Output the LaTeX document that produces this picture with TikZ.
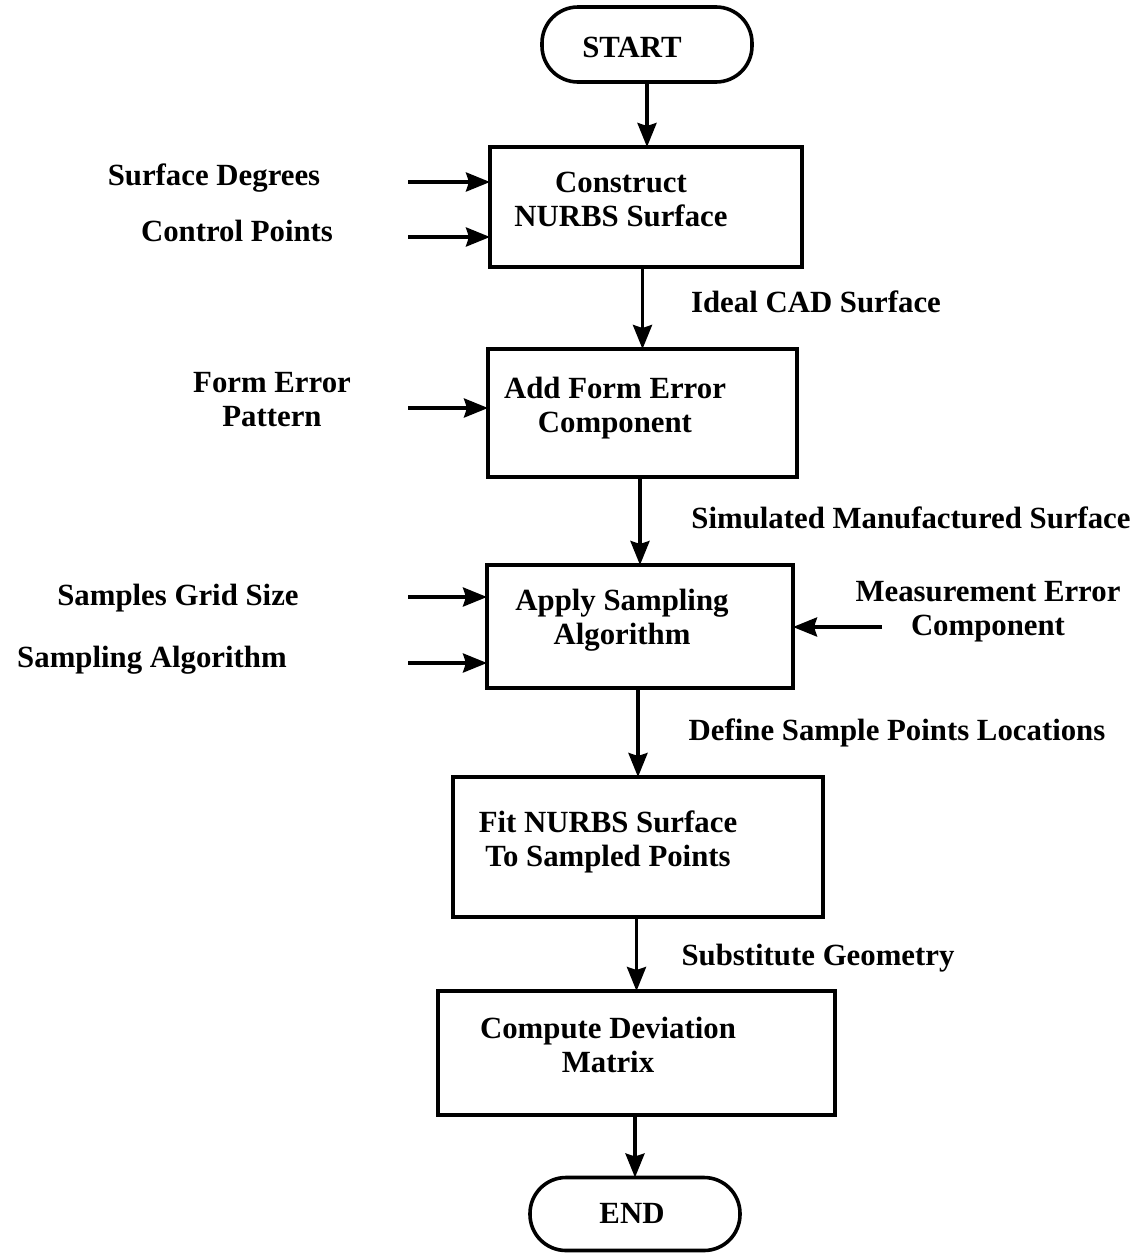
\documentclass[tikz,border=0pt]{standalone}
\usepackage{fontspec}
\setmainfont{Liberation Serif}
\usetikzlibrary{arrows.meta}
\begin{document}
\begin{tikzpicture}[x=0.5pt,y=-0.5pt,
  every node/.style={font=\bfseries\fontsize{15.4pt}{17pt}\selectfont},
  procbox/.style={draw,line width=1.8pt,inner sep=0pt,outer sep=0pt},
  terminal/.style={draw,line width=1.8pt,inner sep=0pt,outer sep=0pt,
    rounded corners=18pt,minimum width=105pt},
  txt/.style={inner sep=0pt,align=center},
  flow/.style={line width=1.8pt,-{Stealth[length=12pt,width=9.5pt,inset=1.5pt]}}]
\useasboundingbox (0,0) rectangle (1142,1253);

% process boxes
\node[procbox,minimum width=156pt,minimum height=60pt] (b1) at (646,207) {};
\node[procbox,minimum width=154.5pt,minimum height=64pt] (b2) at (642.5,413) {};
\node[procbox,minimum width=153pt,minimum height=61.5pt] (b3) at (640,626.5) {};
\node[procbox,minimum width=185pt,minimum height=70pt] (b4) at (638,847) {};
\node[procbox,minimum width=198.5pt,minimum height=62pt] (b5) at (636.5,1053) {};

% start and end terminals
\node[terminal,minimum height=37.5pt] (st) at (647,44.5) {};
\node[terminal,minimum height=36.5pt] (en) at (635,1214) {};

% texts inside the shapes
\node[txt] (tst) at (632,47) {START};
\node[txt] (ten) at (632,1213) {END};
\node[txt] (t1) at (621,199) {Construct\\NURBS Surface};
\node[txt] (t2) at (615,408.5) {Add Form Error\\Component};
\node[txt] (t3) at (622,620.5) {Apply Sampling\\Algorithm};
\node[txt] (t4) at (608,841.5) {Fit NURBS Surface\\To Sampled Points};
\node[txt] (t5) at (608,1045) {Compute Deviation\\Matrix};

% input labels
\node[txt] (l1) at (214,178) {Surface Degrees};
\node[txt] (l2) at (237,231) {Control Points};
\node[txt] (l3) at (272,400) {Form Error\\Pattern};
\node[txt] (l4) at (178,598) {Samples Grid Size};
\node[txt] (l5) at (152,660) {Sampling Algorithm};
\node[txt] (l6) at (988,611.5) {Measurement Error\\Component};

% flow labels
\node[txt] (f1) at (816,301.5) {Ideal CAD Surface};
\node[txt] (f2) at (911,518) {Simulated Manufactured Surface};
\node[txt] (f3) at (897,733) {Define Sample Points Locations};
\node[txt] (f4) at (818,958) {Substitute Geometry};

% main flow
\draw[flow] (st.south) -- (st.south |- b1.north);
\draw[flow] (b2.north |- b1.south) -- (b2.north);
\draw[flow] (b3.north |- b2.south) -- (b3.north);
\draw[flow] (b4.north |- b3.south) -- (b4.north);
\draw[flow] (b5.north |- b4.south) -- (b5.north);
\draw[flow] (en.north |- b5.south) -- (en.north);

% inputs
\coordinate (i1) at (408,182);
\coordinate (i2) at (408,237);
\coordinate (i3) at (408,408);
\coordinate (i4) at (408,597);
\coordinate (i5) at (408,663);
\coordinate (i6) at (882,627);
\draw[flow] (i1) -- (i1 -| b1.west);
\draw[flow] (i2) -- (i2 -| b1.west);
\draw[flow] (i3) -- (i3 -| b2.west);
\draw[flow] (i4) -- (i4 -| b3.west);
\draw[flow] (i5) -- (i5 -| b3.west);
\draw[flow] (i6) -- (i6 -| b3.east);
\end{tikzpicture}
\end{document}
